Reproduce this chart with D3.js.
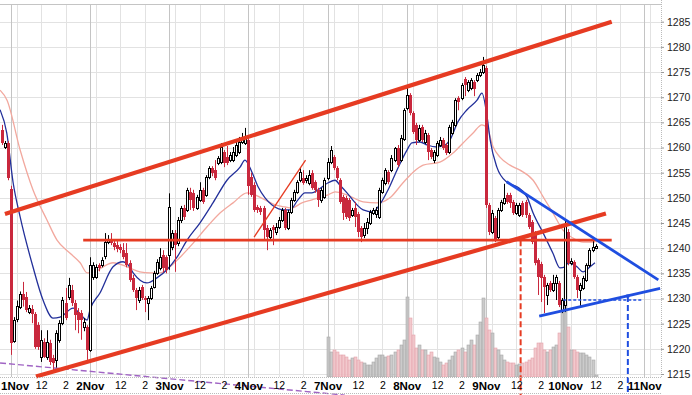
<!DOCTYPE html>
<html><head><meta charset="utf-8">
<script src="https://cdn.jsdelivr.net/npm/d3@7"></script>
<style>body{margin:0;background:#fff}svg{display:block}</style>
</head><body>
<svg id="c" width="692" height="395"></svg>
<script>
// ---------------- DATA ----------------
const firstBar = -3;          // bar index of first candle (1Nov 9:30 = 0), 15-min bars
const opens = [1263.5,1260.2,1260.9,
1251.8,1221.5,1225.9,1228.3,1230.9,1230.3,1227.3,1227.9,1226.9,1224.7,
1218.4,1221.4,1218.4,1221.2,1218.2,1217.8,1221.8,1225.1,1229.1,1230.3,
1231.7,1229.1,1227.3,1227.1,1224.3,1224.3,1219.8,1234.3,1234.3,1236.6,
1236.6,1238.4,1241.2,1241.4,1241.0,1240.6,1240.2,1239.6,1239.0,1237.0,
1234.1,1231.7,1229.7,1232.3,1230.1,1229.1,1230.1,1232.3,1235.1,1236.0,
1238.6,1238.2,1238.6,1240.2,1243.0,1241.0,1245.6,1248.0,1247.6,1251.2,
1251.0,1248.0,1249.6,1251.6,1250.6,1254.1,1255.9,1255.5,1256.9,1257.1,
1259.1,1258.1,1257.5,1257.5,1258.5,1259.1,1261.1,1260.9,1261.5,1254.1,
1252.5,1248.2,1248.0,1248.0,1244.0,1242.2,1244.2,1243.2,1244.2,1245.6,
1247.6,1244.0,1247.2,1249.6,1251.2,1253.5,1254.0,1253.5,1252.9,1255.0,
1253.1,1251.6,1249.6,1250.2,1253.9,1257.1,1258.1,1255.9,1253.5,1250.2,
1250.0,1249.6,1246.6,1248.0,1246.8,1244.0,1242.6,1244.0,1245.0,1247.0,
1246.8,1246.2,1251.2,1252.9,1255.1,1255.5,1257.5,1259.9,1257.5,1261.7,
1267.8,1270.4,1266.8,1264.5,1261.5,1264.1,1261.1,1262.5,1259.5,1257.5,
1258.5,1260.5,1261.5,1260.5,1259.1,1262.9,1264.5,1269.8,1269.8,1273.6,
1271.4,1271.8,1273.0,1273.4,1274.4,1275.0,1275.8,1248.6,1243.2,1246.0,
1242.2,1247.6,1249.0,1250.6,1250.6,1249.2,1247.0,1246.6,1249.0,1249.2,
1246.6,1245.2,1243.0,1237.6,1236.9,1234.3,1230.7,1233.1,1231.7,1233.1,
1233.1,1227.7,1228.7,1243.2,1237.0,1237.2,1234.3,1231.7,1232.1,1233.7,
1236.6,1239.6,1240.0];
const highs = [1264.5,1261.3,1261.3,
1252.4,1226.3,1229.6,1231.4,1233.3,1231.3,1228.7,1228.7,1227.3,1225.3,
1223.7,1222.1,1223.7,1221.8,1218.8,1223.7,1225.7,1230.3,1232.1,1234.1,
1232.7,1229.7,1228.1,1227.7,1226.1,1224.7,1238.2,1237.2,1236.8,1237.0,
1238.2,1243.0,1242.6,1243.0,1241.6,1241.4,1240.8,1241.0,1241.0,1237.6,
1234.7,1232.1,1232.3,1232.7,1230.5,1230.5,1232.5,1235.5,1237.8,1240.0,
1239.6,1238.6,1250.9,1243.6,1243.6,1246.2,1248.4,1248.6,1252.0,1252.0,
1251.6,1250.6,1253.1,1252.0,1254.5,1256.3,1256.3,1257.5,1258.3,1260.9,
1259.5,1260.3,1259.1,1260.1,1261.1,1262.1,1262.9,1263.9,1262.1,1255.0,
1253.1,1248.6,1248.4,1248.4,1244.6,1244.0,1244.6,1245.0,1246.2,1248.0,
1248.0,1247.6,1250.0,1251.6,1253.5,1255.9,1255.5,1254.5,1255.5,1255.5,
1253.5,1252.0,1252.0,1254.0,1257.9,1260.3,1258.5,1256.3,1253.9,1250.6,
1250.4,1250.0,1248.0,1249.2,1247.2,1244.4,1245.0,1246.0,1247.6,1248.0,
1248.2,1252.0,1254.0,1255.9,1255.5,1258.5,1260.1,1260.5,1262.5,1267.8,
1271.8,1270.8,1267.2,1264.9,1264.5,1264.5,1263.5,1262.9,1259.9,1259.5,
1261.3,1262.1,1261.9,1260.9,1264.5,1265.5,1269.8,1270.2,1272.8,1274.0,
1273.4,1273.8,1273.4,1274.8,1275.6,1278.0,1276.2,1249.0,1247.6,1246.4,
1248.0,1249.6,1252.8,1251.0,1251.0,1249.6,1249.0,1249.0,1249.4,1249.6,
1247.0,1245.6,1243.4,1238.0,1237.3,1234.7,1233.1,1233.5,1234.7,1234.7,
1233.5,1230.1,1245.6,1243.8,1238.0,1237.6,1234.7,1233.1,1234.5,1237.0,
1240.0,1242.2,1240.8];
const lows = [1260.5,1259.7,1253.5,
1218.8,1221.2,1225.3,1227.9,1228.4,1227.3,1226.9,1225.1,1220.0,1219.8,
1217.4,1218.2,1217.8,1216.8,1215.8,1216.2,1221.2,1224.7,1225.7,1229.7,
1228.5,1223.7,1223.1,1221.8,1223.5,1217.8,1219.4,1233.7,1233.9,1235.4,
1236.2,1237.8,1240.8,1240.6,1239.6,1239.2,1239.0,1237.8,1236.2,1233.3,
1231.3,1227.7,1229.1,1229.7,1227.3,1225.7,1229.7,1232.0,1234.7,1235.6,
1235.2,1235.0,1235.7,1239.6,1235.3,1240.4,1245.0,1245.6,1247.2,1247.6,
1247.4,1247.6,1249.2,1248.8,1250.2,1253.7,1254.3,1253.5,1256.5,1256.7,
1256.1,1256.5,1257.1,1257.1,1258.1,1258.7,1260.7,1260.5,1250.6,1250.2,
1247.2,1247.0,1246.6,1241.6,1239.6,1241.6,1240.6,1242.6,1243.8,1245.2,
1243.6,1243.6,1246.8,1249.2,1250.8,1253.1,1252.6,1252.9,1252.5,1251.6,
1251.0,1248.2,1249.0,1249.8,1253.5,1256.7,1255.5,1253.5,1248.8,1245.6,
1245.8,1245.4,1246.2,1244.2,1242.2,1241.2,1242.0,1242.8,1244.6,1246.6,
1246.0,1245.8,1250.8,1252.5,1252.7,1255.1,1257.1,1256.1,1257.1,1261.3,
1267.4,1266.4,1262.7,1260.5,1261.1,1261.1,1260.7,1257.5,1257.7,1256.9,
1258.1,1260.1,1259.5,1258.5,1258.7,1262.5,1264.1,1267.4,1269.4,1270.2,
1271.0,1271.4,1270.2,1273.0,1274.0,1274.6,1248.0,1242.6,1242.8,1241.2,
1241.6,1247.2,1248.6,1248.8,1248.0,1246.6,1246.6,1246.2,1246.2,1246.0,
1243.8,1240.8,1236.6,1230.7,1229.3,1227.1,1228.7,1231.3,1231.3,1229.7,
1228.3,1227.1,1227.3,1236.6,1236.6,1233.9,1230.1,1228.3,1231.7,1233.3,
1236.2,1239.2,1239.8];
const closes = [1260.9,1260.9,1253.9,
1221.2,1225.7,1228.6,1230.9,1229.7,1227.7,1228.1,1226.9,1220.4,1220.4,
1221.8,1218.4,1221.4,1217.4,1217.2,1223.1,1225.1,1229.7,1226.1,1232.7,
1229.1,1226.7,1225.7,1225.7,1225.3,1219.8,1236.6,1236.6,1236.2,1236.0,
1237.6,1241.2,1241.6,1241.0,1240.2,1239.8,1239.6,1238.2,1236.6,1233.7,
1231.7,1230.1,1231.7,1230.1,1229.7,1230.1,1232.1,1235.1,1237.2,1238.2,
1236.0,1235.7,1248.2,1243.0,1240.6,1245.6,1248.0,1246.2,1251.6,1249.6,
1248.0,1250.2,1251.6,1249.2,1254.1,1255.9,1254.9,1253.9,1257.9,1260.1,
1256.9,1256.9,1258.5,1259.1,1260.5,1261.1,1262.1,1261.9,1252.3,1250.6,
1247.6,1247.6,1247.2,1243.6,1242.2,1243.6,1243.6,1244.2,1245.6,1247.6,
1244.0,1247.2,1249.6,1251.2,1253.1,1255.1,1253.0,1253.9,1254.5,1252.0,
1251.6,1249.6,1251.6,1253.5,1257.1,1259.5,1255.9,1253.9,1249.2,1247.0,
1246.2,1246.0,1247.6,1246.2,1243.2,1242.2,1244.0,1245.2,1247.2,1247.6,
1247.6,1251.6,1253.5,1255.5,1253.1,1257.9,1259.9,1256.5,1261.9,1267.4,
1270.4,1266.8,1263.1,1261.5,1263.9,1261.5,1262.9,1259.1,1258.1,1259.1,
1260.9,1261.5,1259.9,1258.9,1264.1,1265.1,1269.4,1269.0,1272.4,1272.4,
1273.0,1273.4,1271.6,1274.4,1275.0,1276.4,1248.6,1243.2,1247.0,1241.6,
1247.6,1249.2,1250.0,1249.2,1249.0,1247.0,1248.6,1248.6,1246.6,1246.6,
1244.2,1241.2,1237.0,1234.3,1234.1,1232.3,1232.7,1231.7,1233.1,1234.3,
1228.7,1229.7,1244.6,1237.0,1237.4,1234.3,1231.7,1232.7,1234.1,1236.6,
1239.6,1240.2,1240.4];

const volStart = 104;   // volume shown from 7Nov open
const volumes = [40,25,27,25,22,22,20,17,19,20,17,15,14,12,12,15,19,22,22,20,21,22,25,27,32,37,
80,59,42,29,32,27,27,22,25,20,19,15,12,14,17,21,25,27,29,25,32,37,32,42,55,79,
59,47,44,29,27,22,17,15,14,14,12,13,14,15,17,19,29,34,34,27,25,27,30,32,44,77,
107,50,27,27,25,24,24,22,20,17,2];

const dayLabels = ["1Nov","2Nov","3Nov","4Nov","7Nov","8Nov","9Nov","10Nov","11Nov"];
const hourLabels = ["12","2"];
const priceTicks = [1215,1220,1225,1230,1235,1240,1245,1250,1255,1260,1265,1270,1275,1280,1285];

// moving averages: [bar index, price]
const maFast = [[-3.5,1267.5],[-1.3,1262.9],[0.8,1253.0],[3.1,1246.2],[7.3,1236.3],[10.6,1229.7],[13.9,1226.1],[16.2,1226.3],[20.5,1228.1],[23.7,1226.3],[25.1,1225.7],[26.0,1227.7],[29.3,1231.1],[33.6,1236.3],[36.9,1237.3],[38.5,1236.7],[40.2,1235.1],[44.7,1233.1],[48.0,1234.1],[51.3,1235.7],[54.6,1238.2],[57.9,1241.6],[62.1,1245.0],[66.4,1249.0],[71.0,1253.5],[75.3,1256.1],[76.9,1257.5],[79.2,1255.1],[81.2,1252.2],[83.5,1250.0],[85.8,1248.6],[90.1,1247.6],[91.7,1247.6],[94.3,1249.6],[96.6,1251.0],[98.9,1251.0],[100.9,1251.6],[104.2,1253.0],[106.5,1253.5],[108.1,1252.5],[110.4,1251.0],[113.7,1248.6],[115.7,1247.6],[118.9,1247.2],[120.6,1248.2],[123.9,1251.6],[126.8,1255.5],[130.1,1259.5],[131.7,1260.9],[134.4,1261.1],[136.7,1260.5],[139.9,1260.1],[142.6,1260.5],[144.2,1261.5],[146.8,1265.1],[149.8,1267.5],[153.1,1269.4],[154.7,1270.8],[156.4,1266.1],[157.4,1261.5],[159.6,1256.1],[162.9,1253.1],[166.2,1252.2],[169.5,1250.2],[171.5,1247.0],[174.8,1243.0],[178.0,1239.0],[180.3,1236.1],[182.0,1236.3],[183.0,1237.1],[185.9,1236.3],[187.9,1235.3],[190.2,1236.3],[191.8,1237.1]];
const maSlow = [[-3.5,1271.4],[-1.2,1269.4],[3.1,1259.5],[7.3,1251.6],[11.9,1245.6],[15.2,1241.6],[19.5,1239.0],[22.8,1237.1],[25.1,1235.1],[27.0,1235.1],[30.3,1236.3],[33.6,1237.1],[38.2,1236.3],[42.4,1235.3],[45.7,1235.1],[49.0,1235.1],[52.3,1236.3],[55.6,1238.2],[59.9,1241.0],[64.4,1244.2],[68.7,1247.0],[73.0,1249.0],[77.6,1251.0],[80.2,1250.6],[83.5,1249.6],[86.8,1248.6],[90.1,1248.2],[92.3,1248.0],[95.6,1249.0],[98.9,1249.6],[100.9,1250.0],[104.2,1250.6],[106.5,1251.2],[110.4,1250.6],[115.7,1249.2],[120.3,1249.0],[124.5,1250.0],[128.8,1253.0],[132.1,1255.1],[135.4,1256.5],[140.9,1257.1],[145.2,1258.9],[148.5,1260.9],[151.8,1262.9],[154.7,1264.5],[156.4,1263.9],[158.4,1260.1],[160.6,1258.1],[163.9,1256.5],[167.2,1255.5],[171.5,1253.5],[174.8,1250.2],[178.0,1247.0],[181.3,1243.6],[184.6,1242.0],[187.9,1241.2],[191.8,1241.2]];

// drawn studies: [bar index, price] end points
const channelUpper = [[-1.9,1246.8],[197.3,1285.0]];
const channelLower = [[8.3,1214.5],[195.4,1246.9]];
const supportLine  = [[23.8,1241.6],[197.3,1241.6]];
const minorTrend   = [[79.9,1242.2],[96.8,1257.5]];
const triUpper     = [[162.8,1253.2],[212.6,1233.7]];
const triLower     = [[173.5,1226.5],[213.2,1232.0]];
const targetLevel  = [[181.4,1229.7],[207.3,1229.7]];
const targetBar    = [202.6,1230.5];
const breakBar     = [167.4,1241.6];
const purpleLine   = [[-3.5,1217.2],[109.7,1210.8]];

// ---------------- DRAW ----------------
const svg = d3.select("#c");
const P = {left:0, right:661, top:4.3, bottom:377};
const x = d3.scaleLinear().domain([0,208]).range([10.7,644.3]);
const y = d3.scaleLinear().domain([1215,1285]).range([374,21.7]);
const vy = d3.scaleLinear().domain([0,100]).range([377,277]);
const FONT = "'Liberation Sans', Arial, sans-serif";
const RED = "#c9283d", ORANGE = "#e63b22", BLUE = "#1f4ee0";

svg.append("rect").attr("width",692).attr("height",395).attr("fill","#fff");
svg.append("defs").append("clipPath").attr("id","clip").append("rect")
  .attr("x",P.left).attr("y",P.top).attr("width",P.right-P.left).attr("height",P.bottom-P.top);

// grid
const grid = svg.append("g");
priceTicks.forEach(p=>{
  const yy = Math.round(y(p))+0.5;
  grid.append("line").attr("x1",P.left).attr("x2",P.right).attr("y1",yy).attr("y2",yy)
    .attr("stroke","#e2e2e2").attr("stroke-width",1);
});
const gridIdx = [];
for(let d=0; d<dayLabels.length; d++){
  [0,2,10,18].forEach(o=>{ const i=d*26+o; if(x(i) < P.right) gridIdx.push({i, major:o===0}); });
}
gridIdx.forEach(g=>{
  const xx = Math.round(x(g.i))+0.5;
  grid.append("line").attr("x1",xx).attr("x2",xx).attr("y1",P.top).attr("y2",P.bottom)
    .attr("stroke", g.major ? "#c4c4c4" : "#e2e2e2").attr("stroke-width",1);
});
grid.append("line").attr("x1",P.left).attr("x2",P.right).attr("y1",4.5).attr("y2",4.5)
  .attr("stroke","#c4c4c4");

const plot = svg.append("g").attr("clip-path","url(#clip)");

// volume
const bars = closes.map((c,k)=>({i:firstBar+k, o:opens[k], h:highs[k], l:lows[k], c}));
const volData = volumes.map((v,k)=>{ const b = bars[volStart-firstBar+k]; return {i:volStart+k, v, up:b.c>=b.o}; });
plot.append("g").selectAll("rect").data(volData).join("rect")
  .attr("x",d=>Math.round(x(d.i))-1)
  .attr("y",d=>vy(d.v))
  .attr("width",3)
  .attr("height",d=>vy(0)-vy(d.v))
  .attr("fill",d=>d.up?"#c2c2c2":"#f0c0c4")
  .attr("fill-opacity",0.85)
  .attr("stroke",d=>d.up?"#a9a9a9":"#e3a3ab")
  .attr("stroke-width",0.6);

// moving averages
const line = d3.line().x(d=>x(d[0])).y(d=>y(d[1])).curve(d3.curveMonotoneX);
plot.append("path").attr("d",line(maSlow)).attr("fill","none").attr("stroke","#f2a89e").attr("stroke-width",1.3);
plot.append("path").attr("d",line(maFast)).attr("fill","none").attr("stroke","#23309a").attr("stroke-width",1.3);

// candles
const cg = plot.append("g");
bars.forEach(b=>{
  const cx = Math.round(x(b.i));
  const up = b.c >= b.o;
  const col = up ? "#000" : RED;
  cg.append("line").attr("x1",cx+0.5).attr("x2",cx+0.5)
    .attr("y1",y(b.h)).attr("y2",y(b.l)).attr("stroke",col).attr("stroke-width",1);
  const yt = Math.round(y(Math.max(b.o,b.c))), yb = Math.round(y(Math.min(b.o,b.c)));
  if(up){
    cg.append("rect").attr("x",cx-0.5).attr("y",yt+0.5).attr("width",2)
      .attr("height",Math.max(yb-yt,1)).attr("fill","#fff").attr("stroke","#000").attr("stroke-width",1);
  } else {
    cg.append("rect").attr("x",cx-1).attr("y",yt).attr("width",3)
      .attr("height",Math.max(yb-yt,1)).attr("fill",RED);
  }
});

// studies
const seg = (g, pts, col, w, dash) => g.append("line")
  .attr("x1",x(pts[0][0])).attr("y1",y(pts[0][1])).attr("x2",x(pts[1][0])).attr("y2",y(pts[1][1]))
  .attr("stroke",col).attr("stroke-width",w).attr("stroke-dasharray",dash||null);
const st = svg.append("g");
seg(st, purpleLine, "#a064c4", 1.4, "6,3");
seg(st, [[breakBar[0],breakBar[1]],[breakBar[0],y.invert(395)]], ORANGE, 2, "6,3");
seg(st, [[targetBar[0],targetBar[1]],[targetBar[0],y.invert(395)]], BLUE, 2, "6,3");
seg(st, targetLevel, BLUE, 1.5, "3,2");
seg(st, supportLine, ORANGE, 2.6);
seg(st, channelUpper, ORANGE, 4.2);
seg(st, channelLower, ORANGE, 4.2);
seg(st, minorTrend, ORANGE, 1.3);
seg(st, triUpper, BLUE, 2.8);
seg(st, triLower, BLUE, 2.8);
st.append("rect").attr("x",x(targetBar[0])-1.5).attr("y",y(targetBar[1])-1.5)
  .attr("width",3).attr("height",3).attr("fill",BLUE);

// right axis
svg.append("line").attr("x1",P.right+0.5).attr("x2",P.right+0.5).attr("y1",0).attr("y2",P.bottom)
  .attr("stroke","#bbb").attr("stroke-dasharray","1,1");
const yAxis = d3.axisRight(y).tickValues(priceTicks).tickFormat(d3.format("d")).tickSize(3).tickPadding(3);
const ya = svg.append("g").attr("transform",`translate(${P.right},0)`).call(yAxis);
ya.select(".domain").remove();
ya.selectAll("line").attr("stroke","#999");
ya.selectAll("text").attr("font-family",FONT).attr("font-size",10.5).attr("fill","#222");

// bottom axis
const xTicks = [], xText = {};
dayLabels.forEach((lab,d)=>{
  xTicks.push(d*26); xText[d*26] = lab;
  hourLabels.forEach((h,k)=>{ const i=d*26+(k===0?10:18); if(x(i)<P.right){ xTicks.push(i); xText[i]=h; } });
});
const xAxis = d3.axisBottom(x).tickValues(xTicks).tickFormat(i=>xText[i]).tickSize(0).tickPadding(5);
const xa = svg.append("g").attr("transform",`translate(0,${P.bottom})`).call(xAxis);
xa.select(".domain").remove();
xa.selectAll("text").attr("font-family",FONT).attr("fill","#000")
  .attr("font-size",i=> i%26===0 ? 11.5 : 10.5)
  .attr("font-weight",i=> i%26===0 ? "bold" : "normal");
// keep the first day label inside the picture
xa.selectAll(".tick").filter(i=>i===0).select("text")
  .attr("text-anchor","start").attr("x",-x(0)+0.5);
svg.append("line").attr("x1",0).attr("x2",P.right).attr("y1",P.bottom+0.5).attr("y2",P.bottom+0.5)
  .attr("stroke","#bbb").attr("stroke-dasharray","1,1");
svg.append("line").attr("x1",0).attr("x2",P.right).attr("y1",393.5).attr("y2",393.5)
  .attr("stroke","#bbb").attr("stroke-dasharray","1,1");
</script>
</body></html>
